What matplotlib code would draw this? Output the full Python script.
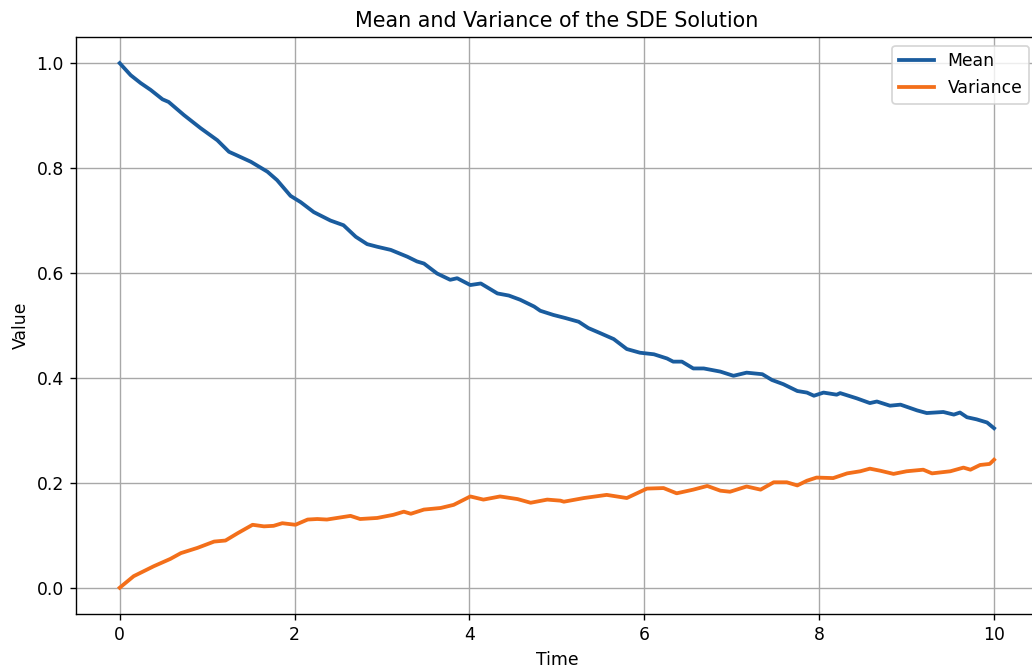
import matplotlib
matplotlib.use("Agg")
import matplotlib.pyplot as plt

# Mean curve
mean_t = [0.0, 0.126, 0.24, 0.354, 0.49, 0.56, 0.735, 0.926, 1.117, 1.25, 1.33, 1.50,
          1.69, 1.80, 1.954, 2.07, 2.22, 2.41, 2.56, 2.70, 2.83, 2.945, 3.10, 3.29,
          3.40, 3.48, 3.63, 3.78, 3.86, 4.01, 4.13, 4.32, 4.45, 4.58, 4.74, 4.81,
          4.96, 5.10, 5.25, 5.36, 5.50, 5.65, 5.80, 5.95, 6.11, 6.26, 6.33, 6.43,
          6.56, 6.68, 6.87, 7.02, 7.17, 7.35, 7.46, 7.59, 7.75, 7.86, 7.94, 8.05,
          8.20, 8.24, 8.43, 8.58, 8.66, 8.81, 8.93, 9.12, 9.23, 9.42, 9.54, 9.61,
          9.69, 9.80, 9.92, 10.0]
mean_v = [1.0, 0.977, 0.962, 0.949, 0.931, 0.926, 0.901, 0.876, 0.853, 0.831, 0.825, 0.812,
          0.793, 0.777, 0.747, 0.735, 0.716, 0.700, 0.691, 0.669, 0.655, 0.650, 0.644, 0.631,
          0.622, 0.618, 0.599, 0.587, 0.590, 0.577, 0.580, 0.561, 0.557, 0.549, 0.536, 0.528,
          0.520, 0.514, 0.507, 0.495, 0.485, 0.474, 0.455, 0.448, 0.445, 0.437, 0.431, 0.431,
          0.418, 0.418, 0.412, 0.404, 0.410, 0.407, 0.396, 0.388, 0.375, 0.372, 0.366, 0.372,
          0.368, 0.371, 0.361, 0.352, 0.355, 0.347, 0.349, 0.338, 0.333, 0.335, 0.330, 0.334,
          0.325, 0.321, 0.315, 0.304]

# Variance curve
var_t = [0.0, 0.16, 0.39, 0.58, 0.70, 0.89, 1.08, 1.21, 1.35, 1.52, 1.65, 1.76, 1.86,
         2.01, 2.15, 2.26, 2.37, 2.64, 2.75, 2.945, 3.13, 3.25, 3.33, 3.48, 3.67, 3.82,
         4.01, 4.16, 4.35, 4.55, 4.70, 4.89, 5.04, 5.08, 5.31, 5.57, 5.80, 6.03, 6.22,
         6.37, 6.56, 6.72, 6.87, 6.98, 7.17, 7.33, 7.48, 7.63, 7.75, 7.86, 7.97, 8.16,
         8.32, 8.47, 8.58, 8.70, 8.85, 9.00, 9.19, 9.29, 9.50, 9.65, 9.73, 9.84, 9.95, 10.0]
var_v = [0.0, 0.022, 0.041, 0.055, 0.066, 0.076, 0.088, 0.090, 0.104, 0.120, 0.117, 0.118, 0.123,
         0.120, 0.130, 0.131, 0.130, 0.137, 0.131, 0.133, 0.139, 0.145, 0.141, 0.149, 0.152, 0.158,
         0.174, 0.168, 0.174, 0.169, 0.162, 0.168, 0.166, 0.164, 0.171, 0.177, 0.171, 0.189, 0.190,
         0.180, 0.187, 0.194, 0.185, 0.183, 0.193, 0.187, 0.201, 0.201, 0.195, 0.204, 0.210, 0.209,
         0.218, 0.222, 0.227, 0.223, 0.217, 0.222, 0.225, 0.218, 0.222, 0.229, 0.225, 0.234, 0.236, 0.244]

MEAN_COLOUR = "#1a5c9e"
VAR_COLOUR  = "#f36f1a"

DPI = 124  # reference text is ~1.24x the usual 100 dpi size

fig = plt.figure(figsize=(1032 / DPI, 671 / DPI), dpi=DPI)
# the reference is cropped on the right, so the axes run past the figure edge
ax = fig.add_axes([0.0736, 0.085, 0.932, 0.860])

ax.plot(mean_t, mean_v, color=MEAN_COLOUR, linewidth=2.2, label="Mean")
ax.plot(var_t, var_v, color=VAR_COLOUR, linewidth=2.2, label="Variance")

ax.set_xlim(-0.5, 10.5)
ax.set_ylim(-0.05, 1.05)
ax.set_title("Mean and Variance of the SDE Solution")
ax.set_xlabel("Time")
ax.set_ylabel("Value")
ax.grid(True, color="#a8a8a8")
ax.legend(loc="upper right")

fig.savefig("out.png", dpi=DPI)
